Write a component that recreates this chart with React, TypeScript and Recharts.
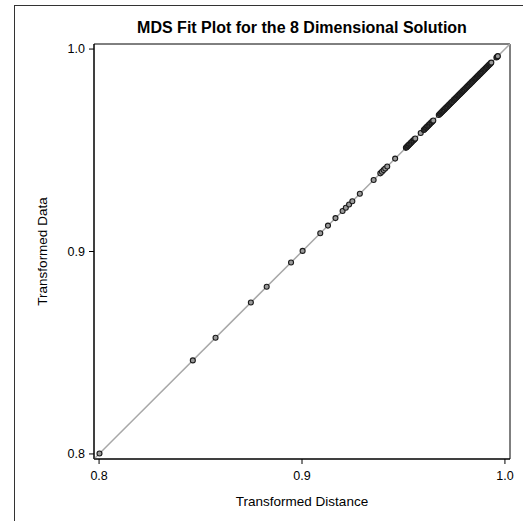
import {
  Label,
  ReferenceArea,
  ReferenceLine,
  Scatter,
  ScatterChart,
  XAxis,
  YAxis,
} from "recharts";

// transformed distances (x)
const transformedDistance = [
  0.8002, 0.8462, 0.8574, 0.8748, 0.8826, 0.8946, 0.9003, 0.909, 0.9128,
  0.9165, 0.92, 0.9216, 0.9232, 0.9248, 0.9285, 0.9353, 0.9386, 0.9394,
  0.9402, 0.941, 0.942, 0.9459, 0.9512, 0.9515, 0.9518, 0.9521, 0.9524,
  0.9527, 0.953, 0.9534, 0.9537, 0.9541, 0.9544, 0.9548, 0.9551, 0.9555,
  0.9558, 0.9585, 0.96, 0.9603, 0.9606, 0.961, 0.9613, 0.9616, 0.9619,
  0.9623, 0.9626, 0.963, 0.9633, 0.9637, 0.964, 0.9644, 0.9647, 0.9674,
  0.9679, 0.9682, 0.9685, 0.9688, 0.9691, 0.9693, 0.9696, 0.9699, 0.9702,
  0.9704, 0.9708, 0.9711, 0.9714, 0.9716, 0.9719, 0.9722, 0.9725, 0.9727,
  0.973, 0.9733, 0.9736, 0.9738, 0.9741, 0.9745, 0.9748, 0.975, 0.9753,
  0.9756, 0.9759, 0.9761, 0.9764, 0.9767, 0.977, 0.9772, 0.9775, 0.9778,
  0.9781, 0.9784, 0.9787, 0.9789, 0.9792, 0.9795, 0.9798, 0.98, 0.9803,
  0.9806, 0.9809, 0.9812, 0.9815, 0.9817, 0.982, 0.9823, 0.9826, 0.9828,
  0.9831, 0.9834, 0.9837, 0.9839, 0.9842, 0.9845, 0.9848, 0.9851, 0.9854,
  0.9856, 0.9859, 0.9862, 0.9865, 0.9867, 0.987, 0.9873, 0.9876, 0.9878,
  0.9881, 0.9884, 0.9887, 0.9889, 0.9892, 0.9895, 0.9898, 0.99, 0.9903,
  0.9906, 0.9909, 0.9911, 0.9914, 0.9917, 0.992, 0.9922, 0.9925, 0.9928,
  0.9931, 0.9933, 0.9958, 0.9961, 0.9963, 0.9965,
];

// transformed data (y): the 8-dim solution fits exactly, every point sits on the diagonal
const transformedData = [...transformedDistance];

const axisTicks = [0.8, 0.9, 1.0];
const DOMAIN: [number, number] = [0.7975, 1.0025];

const points = transformedDistance.map((x, i) => ({ x, y: transformedData[i] }));

const FONT = '"Liberation Sans", Arial, sans-serif';

const Marker = (props: any) => (
  <circle cx={props.cx} cy={props.cy} r={2.5} fill="#9a9a9a" stroke="#1a1a1a" strokeWidth={1.1} />
);

export default function App() {
  return (
    <div
      style={{
        position: "absolute",
        left: 0,
        top: 0,
        width: 523,
        height: 521,
        overflow: "hidden",
        background: "#fff",
        fontFamily: FONT,
      }}
    >
      <div
        style={{
          position: "absolute",
          left: 14,
          top: 5,
          width: 600,
          height: 600,
          border: "1px solid #333",
        }}
      />
      <div
        style={{
          position: "absolute",
          left: 94,
          top: 19,
          width: 416,
          textAlign: "center",
          fontSize: 16,
          fontWeight: "bold",
          color: "#000",
        }}
      >
        MDS Fit Plot for the 8 Dimensional Solution
      </div>
      <ScatterChart
        width={523}
        height={521}
        margin={{ top: 44, right: 13, bottom: 0, left: 0 }}
        style={{ position: "absolute", left: 0, top: 0 }}
      >
        <XAxis
          type="number"
          dataKey="x"
          domain={DOMAIN}
          ticks={axisTicks}
          tickFormatter={(v: number) => v.toFixed(1)}
          height={62}
          tickSize={5}
          tickMargin={7}
          tick={{ fontSize: 12.5, fill: "#000" }}
          stroke="#000"
          allowDataOverflow
        >
          <Label
            value="Transformed Distance"
            position="insideBottom"
            offset={15}
            style={{ fontSize: 13.5, fill: "#000" }}
          />
        </XAxis>
        <YAxis
          type="number"
          dataKey="y"
          domain={DOMAIN}
          ticks={axisTicks}
          tickFormatter={(v: number) => v.toFixed(1)}
          width={94}
          tickSize={5}
          tickMargin={4}
          tick={{ fontSize: 12.5, fill: "#000" }}
          stroke="#000"
          allowDataOverflow
        >
          <Label
            value="Transformed Data"
            angle={-90}
            position="insideLeft"
            offset={42}
            style={{ fontSize: 13.5, fill: "#000", textAnchor: "middle" }}
          />
        </YAxis>
        <ReferenceArea
          x1={DOMAIN[0]}
          x2={DOMAIN[1]}
          y1={DOMAIN[0]}
          y2={DOMAIN[1]}
          fill="none"
          stroke="#000"
          strokeWidth={1}
        />
        <ReferenceLine
          segment={[
            { x: DOMAIN[0], y: DOMAIN[0] },
            { x: DOMAIN[1], y: DOMAIN[1] },
          ]}
          stroke="#a8a8a8"
          strokeWidth={1.5}
        />
        <Scatter data={points} shape={Marker} isAnimationActive={false} />
      </ScatterChart>
    </div>
  );
}
